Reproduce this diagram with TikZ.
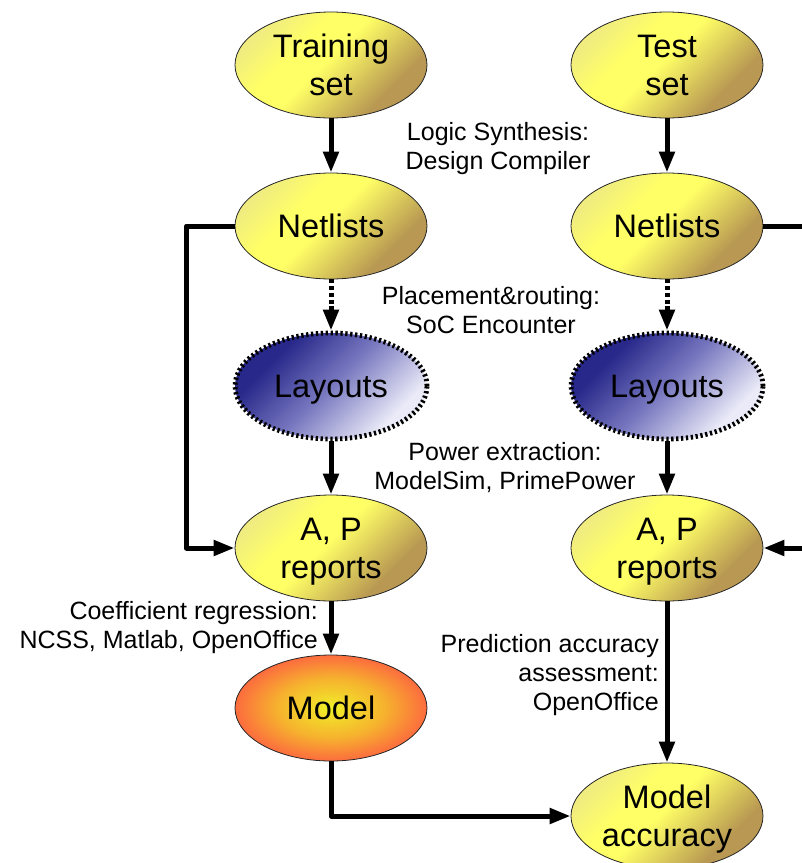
\documentclass[tikz,border=0pt]{standalone}
\usepackage{fontspec}
\setmainfont{Liberation Sans}
\usetikzlibrary{shapes.geometric,arrows.meta}

\definecolor{ylPale}{RGB}{240,236,128}
\definecolor{ylMid}{RGB}{255,255,102}
\definecolor{ylDark}{RGB}{184,152,82}
\definecolor{blDark}{RGB}{40,40,138}
\definecolor{blMid}{RGB}{120,120,192}
\definecolor{blLight}{RGB}{234,234,248}
\definecolor{gCore}{RGB}{240,242,40}
\definecolor{gMid}{RGB}{246,178,46}
\definecolor{gRim}{RGB}{252,108,62}

% diagonal sheen for the yellow stages (0bp = lower right after rotation)
\pgfdeclareverticalshading{sheen}{100bp}{%
  color(0bp)=(ylDark); color(30bp)=(ylDark); color(42bp)=(ylDark!45!ylMid);
  color(52bp)=(ylMid); color(62bp)=(ylMid); color(75bp)=(ylPale);
  color(100bp)=(ylPale)}
% blue fade for the layout stages
\pgfdeclareverticalshading{fade}{100bp}{%
  color(0bp)=(blLight); color(28bp)=(blLight); color(50bp)=(blMid);
  color(70bp)=(blDark); color(100bp)=(blDark)}
% warm glow for the model
\pgfdeclareradialshading{glow}{\pgfpoint{0bp}{0bp}}{%
  color(0bp)=(gCore); color(5bp)=(gCore!60!gMid); color(14bp)=(gMid);
  color(25bp)=(gRim); color(50bp)=(gRim)}

\tikzset{
  stage/.style={ellipse, draw=black!85, line width=0.8pt,
    minimum width=192pt, minimum height=106pt, inner sep=0pt,
    text depth=0pt, align=center, font=\fontsize{32.5}{38}\selectfont},
  yellowfill/.style={shading=sheen, shading angle=45},
  bluefill/.style={shading=fade, shading angle=45,
    draw=black, line width=4.8pt, dash pattern=on 2.3pt off 2.6pt},
  modelfill/.style={shading=glow},
  conn/.style={line width=5pt, line join=round,
    -{Triangle[length=21pt,width=15pt]}},
  dotconn/.style={conn, dash pattern=on 4pt off 2.7pt},
  note/.style={font=\fontsize{25}{29}\selectfont, inner sep=0pt}
}

\begin{document}
\begin{tikzpicture}[x=1pt,y=-1pt]
\useasboundingbox (0,0) rectangle (802,863);
\clip (0,0) rectangle (802,863);

% training flow (left column)
\node[stage, yellowfill] (ts)  at (331,65)  {Training\\set};
\node[stage, yellowfill] (nl1) at (331,226) {Netlists};
\node[stage, bluefill]   (ly1) at (331,386) {Layouts};
\node[stage, yellowfill] (ap1) at (331,548) {A, P\\reports};
\node[stage, modelfill]  (md)  at (331,708) {Model};

% test flow (right column)
\node[stage, yellowfill] (tt)  at (667,65)  {Test\\set};
\node[stage, yellowfill] (nl2) at (667,226) {Netlists};
\node[stage, bluefill]   (ly2) at (667,386) {Layouts};
\node[stage, yellowfill] (ap2) at (667,548) {A, P\\reports};
\node[stage, yellowfill] (ma)  at (667,816) {Model\\accuracy};

% step annotations
\node[note, align=center] (n1) at (498,148.5) {Logic Synthesis:\\Design Compiler};
\node[note, align=center] (n2) at (491,310) {Placement\&routing:\\SoC Encounter};
\node[note, align=center] (n3) at (505,468) {Power extraction:\\ModelSim, PrimePower};
\node[note, align=right, anchor=east] (n4) at (318,628)
  {Coefficient regression:\\NCSS, Matlab, OpenOffice};
\node[note, align=right, anchor=east] (n5) at (659,675)
  {Prediction accuracy\\assessment:\\OpenOffice};

% connectors, left column
\draw[conn] (ts) -- (nl1);
\draw[dotconn] (nl1) -- (ly1);
\draw[conn] (ly1) -- (ap1);
\draw[conn] (ap1) -- (md);
\draw[conn] (nl1.west) -- ++(-48,0) |- (ap1.west);
\draw[conn] (md.south) |- (ma.west);

% connectors, right column
\draw[conn] (tt) -- (nl2);
\draw[dotconn] (nl2) -- (ly2);
\draw[conn] (ly2) -- (ap2);
\draw[conn] (ap2) -- (ma);
\coordinate (rtop) at (830,226);
\coordinate (rbot) at (830,548);
\draw[conn] (nl2.east) -- (rtop) -- (rbot) -- (ap2.east);
\end{tikzpicture}
\end{document}
